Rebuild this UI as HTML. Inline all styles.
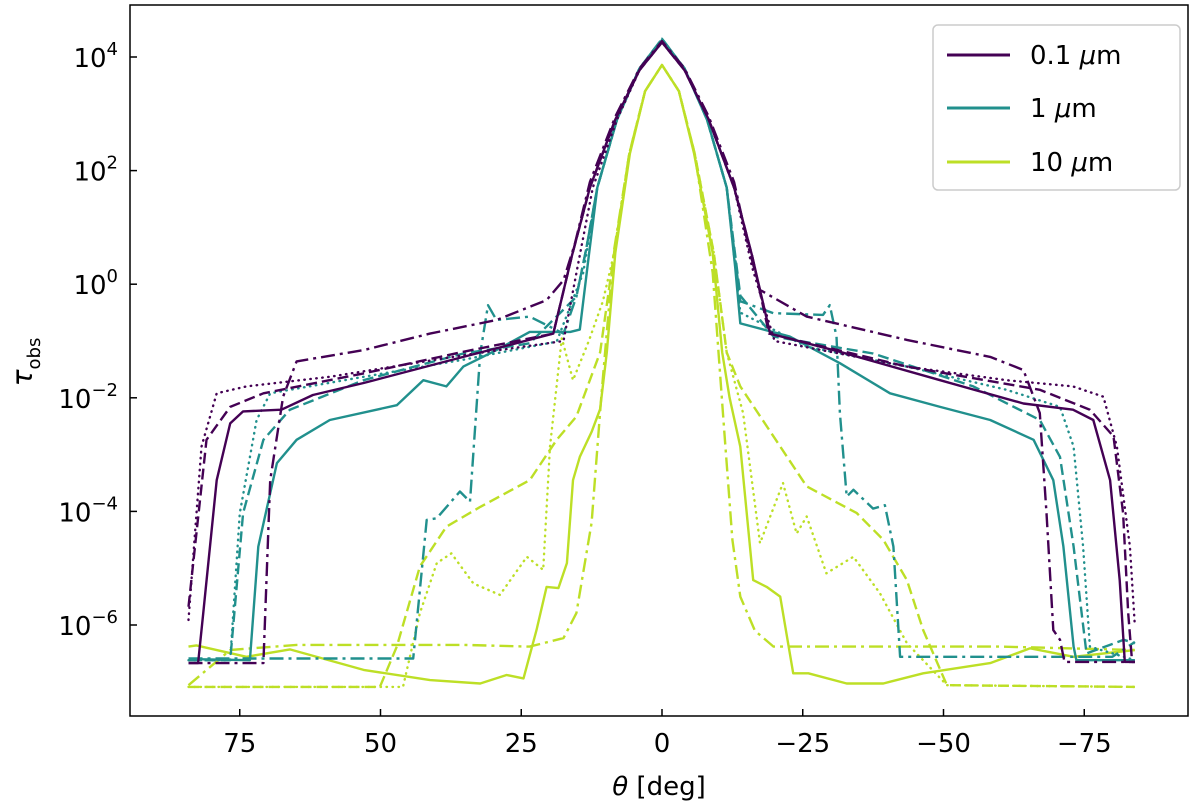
<!DOCTYPE html>
<html><head><meta charset="utf-8"><style>
body{margin:0;background:#fff;}
svg{display:block;font-family:"DejaVu Sans","Liberation Sans",sans-serif;}
</style></head><body>
<svg id="chart" width="1200" height="808">
<rect x="130" y="5" width="1058" height="711" fill="#fff" stroke="#000" stroke-width="1.5"/>
<g id="ticks"></g>
<g id="lines"></g>
<text x="659" y="795" text-anchor="middle" font-size="26"><tspan font-style="italic">θ</tspan> [deg]</text>
<text transform="translate(32,362) rotate(-90)" text-anchor="middle" font-size="28"><tspan font-style="italic">τ</tspan><tspan font-size="18" dy="8">obs</tspan></text>
<g>
<rect x="933" y="25" width="247" height="165" rx="5" fill="#fff" stroke="#ccc" stroke-width="1.5"/>
<line x1="947" y1="55" x2="1010" y2="55" stroke="#440154" stroke-width="3"/>
<text x="1030" y="64" font-size="26">0.1 <tspan font-style="italic">μ</tspan>m</text>
<line x1="947" y1="108" x2="1010" y2="108" stroke="#21908d" stroke-width="3"/>
<text x="1030" y="117" font-size="26">1 <tspan font-style="italic">μ</tspan>m</text>
<line x1="947" y1="162" x2="1010" y2="162" stroke="#bddf26" stroke-width="3"/>
<text x="1030" y="171" font-size="26">10 <tspan font-style="italic">μ</tspan>m</text>
</g>
</svg>
<script>
const xTicks=[75,50,25,0,-25,-50,-75];
const yTicks=[4,2,0,-2,-4,-6];
const colors={p:"#440154",t:"#21908d",y:"#bddf26"};
// series: [theta, log10(tau)]
const purpleSolid=[[84.1,-6.67],[82.4,-6.67],[81.5,-5.8],[79.1,-3.45],[76.7,-2.45],[74.4,-2.24],[67.6,-2.21],[62,-1.95],[53,-1.74],[35.3,-1.28],[19.3,-0.87],[16,0.5],[12.8,1.7],[8.3,2.9],[4,3.77],[0,4.26],[-4,3.77],[-8.3,2.9],[-12.8,1.7],[-16,0.5],[-19.2,-0.87],[-31.6,-1.19],[-49.4,-1.69],[-64.2,-2.1],[-73,-2.21],[-76.6,-2.39],[-79.6,-3.45],[-81.3,-5.21],[-82.2,-6.65],[-84,-6.65]];
const purpleDashed=[[84.1,-5.68],[80.9,-2.74],[76.7,-2.16],[70.8,-1.92],[53,-1.57],[35.3,-1.19],[19.3,-0.87],[16,0.5],[12.8,1.7],[8.3,2.9],[4,3.77],[0,4.26],[-4,3.77],[-8.3,2.9],[-12.8,1.7],[-16,0.5],[-19,-0.87],[-43.5,-1.45],[-67.1,-1.86],[-76,-2.21],[-80.2,-2.68],[-81.9,-4.03],[-82.8,-5.79],[-83.5,-6.65],[-84,-6.65]];
const purpleDotted=[[84.1,-5.91],[81.8,-2.86],[79.1,-1.92],[73.8,-1.8],[59,-1.63],[35.3,-1.25],[17.5,-1.0],[15,0.3],[12.3,1.7],[8,2.9],[4,3.77],[0,4.26],[-4,3.77],[-8.3,2.9],[-12.8,1.7],[-16,0.3],[-20,-1.0],[-43.5,-1.45],[-61.2,-1.69],[-73,-1.8],[-78.4,-1.98],[-80.8,-2.86],[-83.1,-4.62],[-84,-6.03]];
const purpleDashdot=[[84.1,-6.67],[70.8,-6.67],[69.6,-3.45],[67.3,-1.98],[64.9,-1.36],[53,-1.16],[41.2,-0.87],[29.4,-0.63],[20.5,-0.28],[17.5,0.07],[15.5,0.7],[12.8,1.8],[8.3,2.95],[4,3.8],[0,4.28],[-4,3.8],[-8.3,2.95],[-12.8,1.8],[-15.5,0.6],[-17.4,-0.1],[-25.7,-0.57],[-43.5,-0.98],[-58.3,-1.28],[-64.2,-1.51],[-67.1,-2.27],[-68.3,-4.03],[-69.5,-6.09],[-70.7,-6.26],[-71.5,-6.65],[-84,-6.65]];
const tealSolid=[[84.1,-6.6],[73.2,-6.62],[71.7,-4.62],[68.4,-3.15],[64.9,-2.74],[59,-2.39],[47.1,-2.13],[42.4,-1.69],[38.3,-1.8],[35.3,-1.45],[29.4,-1.16],[23.5,-0.84],[16.3,-0.84],[14.6,-0.8],[13,0.5],[11.5,1.7],[8,2.9],[4,3.8],[0,4.3],[-4,3.8],[-8,2.9],[-11.5,1.7],[-13,0.3],[-13.9,-0.69],[-22.7,-0.92],[-31.6,-1.39],[-40.5,-1.92],[-49.4,-2.16],[-58.3,-2.39],[-66,-2.74],[-69.5,-3.45],[-71.3,-4.62],[-73.1,-6.38],[-73.6,-6.62],[-84,-6.62]];
const tealDashed=[[84.1,-6.62],[76.7,-6.62],[74.4,-4.03],[70.8,-2.74],[66.1,-2.21],[53,-1.69],[35.3,-1.22],[23.5,-1.04],[15.2,-0.22],[13.5,0.6],[11.5,1.7],[8,2.9],[4,3.8],[0,4.32],[-4,3.8],[-8,2.9],[-11.5,1.7],[-13.9,-0.2],[-19.8,-0.92],[-37.5,-1.22],[-55.3,-1.8],[-67.1,-2.39],[-70.7,-3.04],[-73.1,-4.62],[-75.4,-6.5],[-82,-6.26],[-84,-6.32]];
const tealDotted=[[84.1,-6.62],[76.7,-6.62],[75,-4.03],[72,-2.39],[69.6,-1.92],[53,-1.63],[35.3,-1.33],[18.7,-1.01],[14,0.2],[11.5,1.7],[8,2.9],[4,3.8],[0,4.3],[-4,3.8],[-8,2.9],[-11.5,1.7],[-13.9,-0.5],[-25.7,-1.1],[-43.5,-1.45],[-61.2,-1.86],[-70.7,-2.16],[-73.1,-2.86],[-74.8,-4.62],[-76,-6.38],[-84,-6.62]];
const tealDashdot=[[84.1,-6.59],[44.2,-6.59],[41.8,-4.15],[40,-4.12],[35.9,-3.65],[34.1,-3.83],[32.3,-1.22],[30.9,-0.37],[29.4,-0.63],[23.5,-0.57],[17.5,-0.87],[15.2,-0.22],[13.5,0.6],[11.5,1.7],[8,2.9],[4,3.8],[0,4.32],[-4,3.8],[-8,2.9],[-11.5,1.7],[-13.9,-0.3],[-19.8,-0.51],[-28.6,-0.54],[-29.8,-0.37],[-31,-0.92],[-31.6,-2.27],[-32.8,-3.74],[-34,-3.62],[-37.5,-3.95],[-39.6,-3.89],[-41.1,-4.62],[-42.3,-6.56],[-80,-6.56],[-84,-6.3]];
const yellowSolid=[[84.1,-6.38],[82.7,-6.36],[73.8,-6.56],[66.1,-6.43],[53,-6.79],[41.2,-6.97],[32.3,-7.03],[27.6,-6.88],[24.6,-6.94],[22.3,-6.09],[20.5,-5.33],[18.4,-5.35],[16.9,-4.91],[15.8,-3.45],[14.6,-3.04],[12.5,-2.6],[11,-2.2],[9.8,-1.2],[8.3,0.55],[5.7,2.3],[3,3.4],[0,3.86],[-3,3.4],[-5.7,2.3],[-9,0.55],[-10.7,-1.2],[-12,-2.0],[-13.9,-2.86],[-16.2,-5.21],[-18.6,-5.33],[-21,-5.5],[-23.3,-6.85],[-26,-6.85],[-32.8,-7.03],[-39.3,-7.03],[-46.4,-6.85],[-58.3,-6.67],[-65.4,-6.41],[-73.1,-6.56],[-84,-6.44]];
const yellowDashed=[[84.1,-7.09],[50.1,-7.09],[47.1,-6.38],[43,-4.97],[38.3,-4.27],[32.3,-3.92],[23.5,-3.45],[18.7,-2.74],[15.2,-2.33],[11,-1.2],[8.5,0.55],[5.8,2.3],[3,3.4],[0,3.86],[-3,3.4],[-5.8,2.3],[-9.2,0.55],[-11.5,-1.2],[-13.9,-1.8],[-25.7,-3.56],[-34.6,-4.03],[-39.3,-4.5],[-43.5,-5.21],[-46.4,-6.09],[-50.6,-7.06],[-84,-7.09]];
const yellowDotted=[[84.1,-7.09],[46,-7.09],[43,-5.79],[40,-4.91],[37.4,-4.74],[33.5,-5.27],[28.8,-5.47],[24,-4.8],[21.1,-5.03],[19.9,-2.86],[17.8,-0.95],[15.8,-1.69],[13,-1.0],[10.5,-0.3],[8.5,0.55],[5.8,2.3],[3,3.4],[0,3.86],[-3,3.4],[-5.8,2.3],[-9.2,0.55],[-11.5,-1.2],[-14.4,-2.27],[-17.4,-4.56],[-21.5,-3.5],[-23.9,-4.39],[-25.7,-4.09],[-29.2,-5.09],[-34,-4.8],[-38.7,-5.44],[-43.5,-6.32],[-50.6,-7.06],[-84,-7.09]];
const yellowDashdot=[[84.1,-7.06],[76.7,-6.44],[64.9,-6.35],[35.3,-6.35],[23.5,-6.38],[17.5,-6.23],[15.2,-5.79],[12.5,-4.2],[10.8,-2.0],[8.6,0.55],[5.8,2.3],[3,3.4],[0,3.86],[-3,3.4],[-5.8,2.3],[-9,0.2],[-11,-2.5],[-12.5,-4.5],[-13.9,-5.5],[-16.5,-6.1],[-19.8,-6.38],[-60,-6.38],[-84,-6.44]];
const series=[
 ["yellow-solid",yellowSolid,"y",""],["yellow-dashed",yellowDashed,"y","11 5"],["yellow-dotted",yellowDotted,"y","0.5 5.5"],["yellow-dashdot",yellowDashdot,"y","14 5 3 5"],
 ["teal-solid",tealSolid,"t",""],["teal-dashed",tealDashed,"t","11 5"],["teal-dotted",tealDotted,"t","0.5 5.5"],["teal-dashdot",tealDashdot,"t","14 5 3 5"],
 ["purple-solid",purpleSolid,"p",""],["purple-dashed",purpleDashed,"p","11 5"],["purple-dotted",purpleDotted,"p","0.5 5.5"],["purple-dashdot",purpleDashdot,"p","14 5 3 5"]];
const NS="http://www.w3.org/2000/svg";
const X=t=>662-5.63*t;
const Y=l=>57+(4-l)*56.8;
const tg=document.getElementById('ticks');
xTicks.forEach(t=>{
 const l=document.createElementNS(NS,'line');
 l.setAttribute('x1',X(t));l.setAttribute('x2',X(t));l.setAttribute('y1',716);l.setAttribute('y2',709);l.setAttribute('stroke','#000');l.setAttribute('stroke-width','1.5');
 
 
 tg.appendChild(l);
 const tx=document.createElementNS(NS,'text');
 tx.setAttribute('x',X(t));tx.setAttribute('y',752);tx.setAttribute('text-anchor','middle');tx.setAttribute('font-size','26');
 tx.textContent=t<0?'−'+(-t):String(t);
 
 
 tg.appendChild(tx);
});
yTicks.forEach(v=>{
 const l=document.createElementNS(NS,'line');
 l.setAttribute('x1',130);l.setAttribute('x2',137);l.setAttribute('y1',Y(v));l.setAttribute('y2',Y(v));l.setAttribute('stroke','#000');l.setAttribute('stroke-width','1.5');
 
 
 tg.appendChild(l);
 const tx=document.createElementNS(NS,'text');
 tx.setAttribute('x',118);tx.setAttribute('y',Y(v)+10);tx.setAttribute('text-anchor','end');tx.setAttribute('font-size','26');
 tx.innerHTML='10<tspan font-size="18" dy="-12">'+(v<0?'−'+(-v):v)+'</tspan>';
 
 
 tg.appendChild(tx);
});
const lg=document.getElementById('lines');
series.forEach(s=>{
 const p=document.createElementNS(NS,'polyline');
 p.setAttribute('points',s[1].map(d=>X(d[0]).toFixed(1)+','+Y(d[1]).toFixed(1)).join(' '));
 p.setAttribute('fill','none');p.setAttribute('stroke',colors[s[2]]);p.setAttribute('stroke-width','2.4');
 p.setAttribute('stroke-linejoin','round');
 if(s[3]){p.setAttribute('stroke-dasharray',s[3]);if(s[3].startsWith('0.5'))p.setAttribute('stroke-linecap','round');}
 
 
 lg.appendChild(p);
});
</script>
</body></html>
